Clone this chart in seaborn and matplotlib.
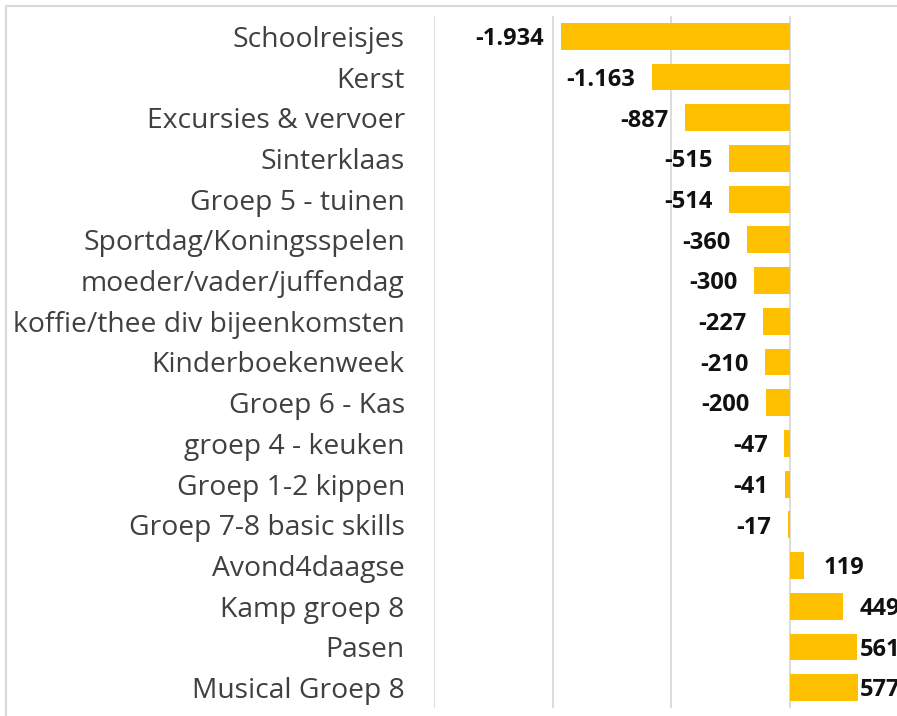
import pandas as pd
import seaborn as sns
import matplotlib.pyplot as plt
from matplotlib.lines import Line2D

sns.set_style("white")
plt.rcParams['font.family'] = ['Open Sans', 'DejaVu Sans']

# Data
categories = [
    "Schoolreisjes", "Kerst", "Excursies & vervoer", "Sinterklaas",
    "Groep 5 - tuinen", "Sportdag/Koningsspelen", "moeder/vader/juffendag",
    "koffie/thee div bijeenkomsten", "Kinderboekenweek", "Groep 6 - Kas",
    "groep 4 - keuken", "Groep 1-2 kippen", "Groep 7-8 basic skills",
    "Avond4daagse", "Kamp groep 8", "Pasen", "Musical Groep 8",
]
values = [-1934, -1163, -887, -515, -514, -360, -300, -227, -210, -200,
          -47, -41, -17, 119, 449, 561, 577]
labels = ["-1.934", "-1.163", "-887", "-515", "-514", "-360", "-300", "-227",
          "-210", "-200", "-47", "-41", "-17", "119", "449", "561", "577"]

df = pd.DataFrame({"categorie": categories, "bedrag": values})

W, H = 897, 716
fig = plt.figure(figsize=(W / 100, H / 100), dpi=100)
ax = fig.add_axes([434 / W, 8 / H, 1 - 434 / W, 692 / H])

sns.barplot(data=df, x="bedrag", y="categorie", orient="h", color="#FFC000",
            saturation=1, width=0.66, linewidth=0, ax=ax)

ax.set_xlim(-3000, (W - 790) / 118.7 * 1000)
ax.set_xticks([-3000, -2000, -1000, 0])
ax.set_xticklabels([])
ax.xaxis.grid(True, color="#D9D9D9", linewidth=1.3)
ax.set_axisbelow(True)
ax.tick_params(axis="both", length=0)
ax.tick_params(axis="y", pad=21, labelsize=20.3, labelcolor="#404040")
ax.set_xlabel("")
ax.set_ylabel("")
for s in ax.spines.values():
    s.set_visible(False)

# Waardelabels
for i, (v, lab) in enumerate(zip(values, labels)):
    if v < 0:
        ax.annotate(lab, (v, i), xytext=(-12, -2), textcoords="offset points",
                    ha="right", va="center", fontsize=17, fontweight="bold",
                    color="#111111")
    else:
        ax.annotate(lab, (min(v, 422), i), xytext=(14, -2),
                    textcoords="offset points", ha="left", va="center",
                    fontsize=17, fontweight="bold", color="#111111",
                    annotation_clip=False)

# Kaderrand
fig.add_artist(Line2D([6 / W, 1], [1 - 6 / H, 1 - 6 / H],
                      transform=fig.transFigure, color="#D9D9D9", linewidth=1.5))
fig.add_artist(Line2D([6 / W, 6 / W], [0, 1 - 6 / H],
                      transform=fig.transFigure, color="#D9D9D9", linewidth=1.5))

fig.savefig("out.png", dpi=100)
